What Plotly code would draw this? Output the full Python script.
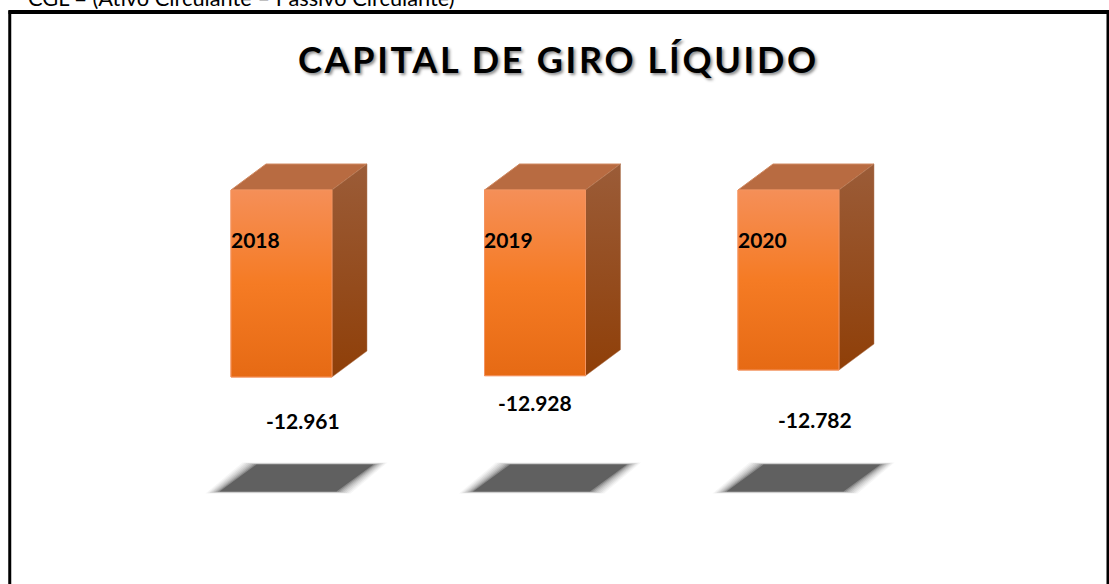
import plotly.graph_objects as go

years = ["2018", "2019", "2020"]
values = [-12961, -12928, -12782]
value_labels = ["-12.961", "-12.928", "-12.782"]
title_text = "CAPITAL DE GIRO LÍQUIDO"
formula_text = "CGL = (Ativo Circulante – Passivo Circulante)"

FONT = "Lato, Carlito, Calibri, sans-serif"
W, H = 1109, 584
PX_X0, PX_STEP = 281.5, 253.5      # page pixel of the first category, pixels per category
PX_Y_BASE = 190                    # page pixel of the bars' common top edge
UNITS_PER_PX = 25.6
BASE = -8174                       # value at which the bars' top edge sits

def ux(px):
    return px / PX_STEP

def uy(px):
    return px * UNITS_PER_PX

X_RANGE = [(0 - PX_X0) / PX_STEP, (W - PX_X0) / PX_STEP]
Y_RANGE = [BASE - uy(H - PX_Y_BASE), BASE + uy(PX_Y_BASE)]

BAR_W = ux(101)
DX, DY = ux(35), uy(26)
positions = list(range(len(years)))

fig = go.Figure()

# front faces
fig.add_trace(go.Bar(
    x=positions, y=[v - BASE for v in values], base=BASE, width=BAR_W,
    marker=dict(color="#F47C25", line=dict(color="#F4935F", width=1)),
    hoverinfo="skip", showlegend=False))

FRONT_GRAD = [[0, "#E66A14"], [0.5, "#F57B24"], [1, "#F58F58"]]
SIDE_GRAD = [[0, "#8F3F08"], [1, "#9B5C38"]]

for p, v in zip(positions, values):
    l, r = p - BAR_W / 2, p + BAR_W / 2
    # top face
    fig.add_trace(go.Scatter(
        x=[l, l + DX, r + DX, r, l], y=[BASE, BASE + DY, BASE + DY, BASE, BASE],
        mode="lines", fill="toself", fillcolor="#B86B41",
        line=dict(color="#D08A62", width=1), hoverinfo="skip", showlegend=False))
    # side face
    fig.add_trace(go.Scatter(
        x=[r, r + DX, r + DX, r, r], y=[BASE, BASE + DY, v + DY, v, BASE],
        mode="lines", fill="toself",
        fillgradient=dict(type="vertical", colorscale=SIDE_GRAD),
        line=dict(color="#B27A58", width=0.5), hoverinfo="skip", showlegend=False))
    # gradient of the front face
    fig.add_trace(go.Scatter(
        x=[l, r, r, l, l], y=[BASE, BASE, v, v, BASE],
        mode="lines", fill="toself",
        fillgradient=dict(type="vertical", colorscale=FRONT_GRAD),
        line=dict(color="#F4935F", width=1), hoverinfo="skip", showlegend=False))

# floor shadows, softened by stacked translucent polygons
SHADOW_BOTTOM, SHADOW_TOP = 491.5, 464.5
SHADOW_SPREAD = [(14, 2.0, 0.06), (12, 1.7, 0.08), (10, 1.4, 0.10), (8, 1.1, 0.12),
                 (6, 0.8, 0.16), (4, 0.5, 0.24), (2, 0.25, 0.40), (0, 0, 1.0)]
for p in positions:
    y0 = BASE - uy(SHADOW_BOTTOM - PX_Y_BASE)
    y1 = BASE - uy(SHADOW_TOP - PX_Y_BASE)
    sl, sr, skew = p + ux(-62), p + ux(55), ux(37)
    for ex, ey, alpha in SHADOW_SPREAD:
        e, f = ux(ex), uy(ey)
        fig.add_trace(go.Scatter(
            x=[sl - e, sr + e, sr + skew + e, sl + skew - e, sl - e],
            y=[y0 - f, y0 - f, y1 + f, y1 + f, y0 - f],
            mode="lines", fill="toself", fillcolor="#606060",
            line=dict(width=0), opacity=alpha, hoverinfo="skip", showlegend=False))

annotations = []
# year labels, on the left edge of each front face
for p, year in zip(positions, years):
    annotations.append(dict(
        x=p - BAR_W / 2, y=BASE - uy(49.5), text=year, xref="x", yref="y",
        xanchor="left", yanchor="middle", showarrow=False, xshift=-2.5,
        font=dict(family=FONT, size=21, color="#000000", weight="bold")))

# value labels
label_dx = [21.5, -0.5, 26.5]
label_py = [420, 402, 419]
for p, lab, dx, py in zip(positions, value_labels, label_dx, label_py):
    annotations.append(dict(
        x=p + ux(dx), y=BASE - uy(py - PX_Y_BASE), text=lab, xref="x", yref="y",
        xanchor="center", yanchor="middle", showarrow=False,
        font=dict(family=FONT, size=21, color="#000000", weight="bold")))

annotations.append(dict(
    x=558 / W, y=1 - 59 / H, text=title_text, xref="paper", yref="paper",
    xanchor="center", yanchor="middle", showarrow=False,
    font=dict(family=FONT, size=36, color="#000000", weight="bold",
              shadow="2px 2px 3px rgba(0,0,0,0.45)")))
annotations.append(dict(
    x=26 / W, y=1 - 13 / H, text=formula_text, xref="paper", yref="paper",
    xanchor="left", yanchor="bottom", showarrow=False,
    font=dict(family=FONT, size=21.8, color="#000000")))

shapes = [dict(type="rect", xref="paper", yref="paper",
               x0=9.75 / W, x1=1108 / W, y0=1 - 12 / H, y1=-20 / H,
               line=dict(color="#000000", width=3), layer="above"),
          dict(type="line", xref="paper", yref="paper",
               x0=8.5 / W, x1=1, y0=1 - 12 / H, y1=1 - 12 / H,
               line=dict(color="#000000", width=4), layer="above")]

fig.update_layout(
    width=W, height=H, margin=dict(l=0, r=0, t=0, b=0),
    paper_bgcolor="#FFFFFF", plot_bgcolor="#FFFFFF",
    barmode="overlay", showlegend=False,
    xaxis=dict(visible=False, range=X_RANGE, fixedrange=True),
    yaxis=dict(visible=False, range=Y_RANGE, fixedrange=True),
    annotations=annotations, shapes=shapes,
)

# remove the page margin, and space out the title's letters as in the reference
POST = """
document.documentElement.style.overflow = 'hidden';
document.body.style.margin = '0';
document.querySelectorAll('.annotation-text').forEach(function (t) {
  if (t.textContent.indexOf('CAPITAL') === 0) { t.style.letterSpacing = '2.7px'; }
});
"""
fig.write_html("out.html", config={"displayModeBar": False}, post_script=POST)
